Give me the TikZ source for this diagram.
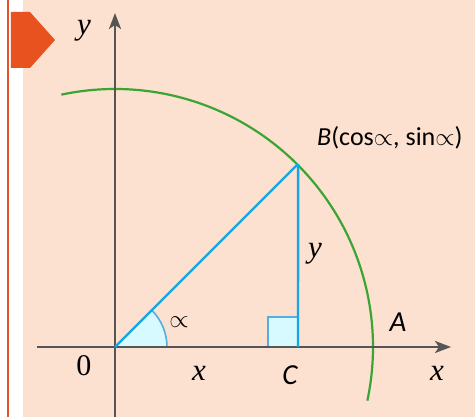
\documentclass[tikz,border=0pt]{standalone}
\usepackage{fontspec}
\setsansfont{Carlito}
\newfontfamily\lblserif{Liberation Serif}
\usetikzlibrary{arrows.meta}
\definecolor{peach}{HTML}{FCE0D0}
\definecolor{edgered}{HTML}{E5532C}
\definecolor{tabred}{HTML}{E8521E}
\definecolor{axisgray}{HTML}{555555}
\definecolor{circgreen}{HTML}{3AA535}
\definecolor{legblue}{HTML}{16A6E6}
\definecolor{arcblue}{HTML}{55AEE2}
\definecolor{cyanfill}{HTML}{D6FAFF}
\newcommand\propsign[1]{{\fontsize{#1}{#1}\selectfont$\propto$}}

\begin{document}
\begin{tikzpicture}[x=1pt, y=1pt, >={Stealth[length=16pt, width=12pt, inset=4pt]},
	every node/.style={font=\fontsize{24}{26}\selectfont, text=black},
	axis/.style={draw=axisgray, line width=2.2pt},
	leg/.style={draw=legblue, line width=2.4pt},
	mark fill/.style={fill=cyanfill, draw=arcblue, line width=1.6pt},
	mathlbl/.style={font=\fontsize{31}{33}\selectfont\lblserif\itshape},
	ptlbl/.style={font=\fontsize{29}{31}\selectfont\sffamily\itshape}]
	\useasboundingbox (-115,-70) rectangle (360,347);
	\fill[white] (-115,-70) rectangle (360,347);
	\fill[peach] (-92,-70) rectangle (360,347);
	\fill[edgered] (-108,-70) rectangle (-106,347);
	\fill[tabred] (-104,335) -- (-85,335) -- (-60,307) -- (-85,279) -- (-104,279) -- cycle;
	\coordinate (O) at (0,0);
	\coordinate (C) at (183,0);
	\coordinate (B) at (45:259);
	\coordinate (xstart) at (-78,0);
	\coordinate (xend) at (336,0);
	\coordinate (ystart) at (0,-70);
	\coordinate (yend) at (0,334);
	\coordinate (arcstart) at (102:258);
	\fill[cyanfill] (O) -- (52,0) arc[start angle=0, end angle=45, radius=52] -- cycle;
	\draw[draw=arcblue, line width=1.6pt] (52,0) arc[start angle=0, end angle=45, radius=52];
	\draw[mark fill] (153,0) rectangle (183,30);
	\draw[circgreen, line width=2.2pt] (arcstart) arc[start angle=102, end angle=-12, radius=258];
	\draw[axis, ->] (xstart) -- (xend);
	\draw[axis, ->] (ystart) -- (yend);
	\draw[leg] (O) -- (B);
	\draw[leg] (B) -- (C);
	\node[mathlbl] (ylab) at (-31,316) {y};
	\node[mathlbl] (xlab) at (322,-26) {x};
	\node[mathlbl] (xleg) at (84,-26) {x};
	\node[mathlbl] (yleg) at (200,93) {y};
	\node[font=\fontsize{30}{32}\selectfont\lblserif] (zero) at (-31,-19) {0};
	\node (alpha) at (64,25) {\propsign{33}};
	\node[ptlbl] (clab) at (175,-28) {C};
	\node[ptlbl] (alab) at (283,25) {A};
	\node[font=\fontsize{26}{28}\selectfont\sffamily, anchor=west, inner sep=0pt] (blab) at (202,209) {\textit{B}(cos\propsign{29}, sin\propsign{29})};
\end{tikzpicture}
\end{document}
